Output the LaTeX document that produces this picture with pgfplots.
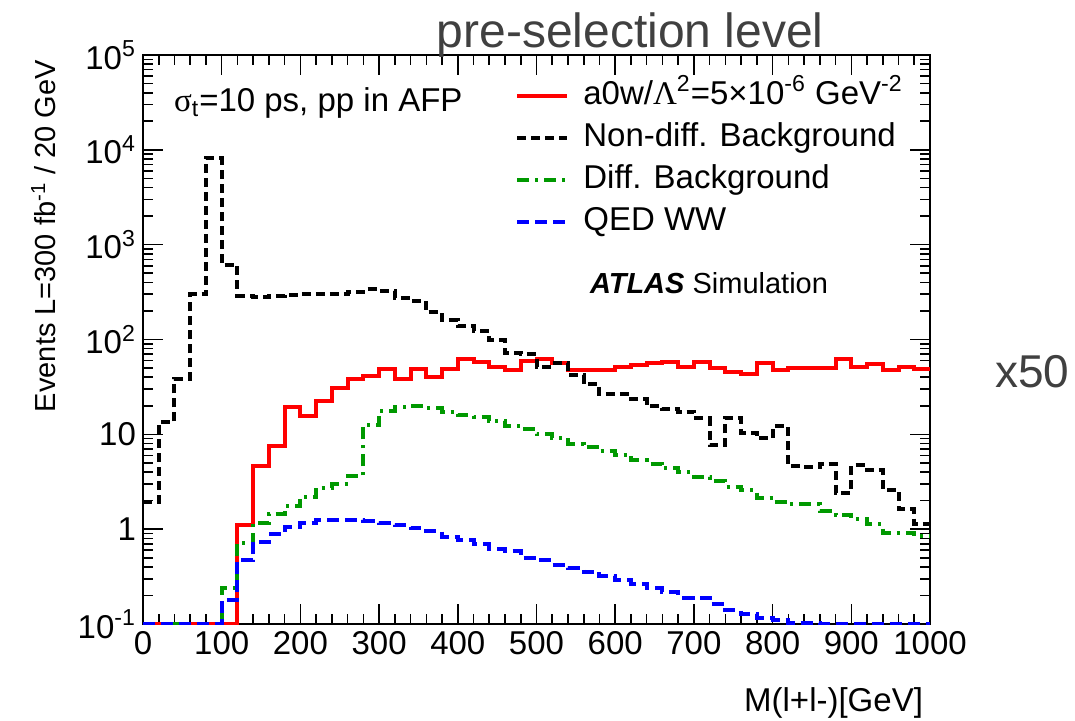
\documentclass[border=0pt]{standalone}
\usepackage{fontspec}
\setmainfont{Liberation Sans}
\newfontfamily\symf{Liberation Serif}
\usepackage{pgfplots}
\pgfplotsset{compat=1.18}
\usepackage{pgfplotstable}
\definecolor{tgray}{RGB}{64,64,64}
\definecolor{rootgreen}{RGB}{0,153,0}

\pgfplotstableread{
x sig nondiff diff qed
0 0.1 1.94 0.1 0.1
20 0.1 13.5 0.1 0.1
40 0.1 38 0.1 0.1
60 0.1 299 0.1 0.1
80 0.1 8130 0.1 0.1
100 0.1 609 0.237 0.18
120 1.12 289 0.71 0.47
140 4.6 282 1.15 0.73
160 7.6 289 1.46 0.885
180 19.5 296 1.75 1.06
200 15.5 305 2.19 1.17
220 22.5 305 2.75 1.24
240 31 305 3.03 1.24
260 38 316 3.62 1.24
280 41 337 12.5 1.22
300 48.7 327 17.6 1.17
320 38 272 19.2 1.1
340 48.6 256 19.8 1.02
360 40 193 18.8 0.95
380 48.6 160 17.3 0.83
400 62 138 15.9 0.76
420 58 123 15.3 0.69
440 50.8 98.6 13.8 0.625
460 47.6 72.5 12.2 0.59
480 59 70 11.3 0.5
500 61.6 51.5 10 0.47
520 56.8 56 9.06 0.42
540 47.6 42 8.0 0.39
560 47.6 33.8 7.4 0.355
580 47.6 26.4 6.7 0.32
600 50.8 26.4 6.1 0.29
620 53.6 23.5 5.35 0.265
640 56.8 19.8 4.9 0.237
660 58.5 18.3 4.4 0.215
680 51.5 17.3 4.0 0.19
700 58.5 14.9 3.56 0.19
720 50.5 7.7 3.2 0.164
740 45 14.9 2.8 0.14
760 43 10.4 2.58 0.129
780 56 9.06 2.14 0.117
800 47.6 12.2 1.94 0.11
820 49.5 4.6 1.84 0.103
840 49.5 4.5 1.84 0.103
860 49.5 4.9 1.56 0.1
880 63 2.4 1.4 0.1
900 51.5 4.7 1.27 0.1
920 54.6 4.2 1.13 0.1
940 47.6 2.6 0.92 0.1
960 51.5 1.65 0.92 0.1
980 48.6 1.13 0.84 0.1
1000 48.6 1.13 0.84 0.1
}\data

\begin{document}
\begin{tikzpicture}
\path[use as bounding box] (-71.5pt,-48pt) rectangle (466pt,312pt);
\begin{axis}[
  at={(0pt,0pt)}, anchor=south west,
  scale only axis, width=393.5pt, height=284.5pt,
  xmin=0, xmax=1000, ymode=log, ymin=0.1, ymax=1e5,
  xtick={0,100,...,1000}, minor x tick num=4,
  ytick={0.1,1,10,100,1000,10000,100000},
  yticklabels={10\textsuperscript{-1},1,10,10\textsuperscript{2},10\textsuperscript{3},10\textsuperscript{4},10\textsuperscript{5}},
  /pgf/number format/assume math mode=true,
  xticklabel style={/pgf/number format/1000 sep={}},
  tick label style={font=\fontsize{16.5}{16.5}\selectfont, black},
  major tick length=10pt, minor tick length=5pt,
  every tick/.style={black, line width=0.8pt},
  axis line style={line width=1pt},
  tick align=inside,
  title={pre-selection level},
  title style={at={(axis description cs:0.619,1.014)}, anchor=center, font=\fontsize{24}{24}\selectfont, text=tgray},
  xlabel={M(l+l-)[GeV]},
  xlabel style={at={(axis description cs:1,-0.139)}, anchor=east, font=\fontsize{16.5}{16.5}\selectfont},
  ylabel={Events L=300 fb\textsuperscript{-1} / 20 GeV},
  ylabel style={at={(axis description cs:-0.1265,1.0035)}, anchor=east, rotate=0, font=\fontsize{14.5}{14.5}\selectfont},
  legend cell align=left,
  legend style={at={(axis description cs:0.465,0.967)}, anchor=north west, draw=none, fill=none,
    font=\fontsize{16.5}{16.5}\selectfont, row sep=3pt,
    nodes={inner sep=1pt, text height=12pt, text depth=4pt},
    /tikz/every even column/.append style={column sep=0pt}},
  legend image code/.code={\draw[#1] (0pt,0pt) -- (25pt,0pt);},
  extra description/.code={
    \node[anchor=west, font=\fontsize{16.5}{16.5}\selectfont] at (0.0305,0.9156) {{\symf σ}\textsubscript{t}=10 ps, pp in AFP};
    \node[anchor=west, font=\fontsize{14.5}{14.5}\selectfont] at (0.559,0.599) {\textbf{\textit{ATLAS}} Simulation};
    \node[font=\fontsize{23}{23}\selectfont, text=tgray] at (1.13,0.443) {x50};
  },
]
\addplot[const plot, red, line width=2pt] table[x=x,y=sig]{\data};
\addlegendentry{\hspace{6pt}a0w/{\symf Λ}\textsuperscript{2}=5×10\textsuperscript{-6} GeV\textsuperscript{-2}}
\addplot[const plot, black, line width=2pt, dash pattern=on 4.5pt off 2.5pt] table[x=x,y=nondiff]{\data};
\addlegendentry{\hspace{6pt}Non-diff. Background}
\addplot[const plot, rootgreen, line width=2pt, dash pattern=on 6pt off 3pt on 1.5pt off 3pt] table[x=x,y=diff]{\data};
\addlegendentry{\hspace{6pt}Diff. Background}
\addplot[const plot, blue, line width=2pt, dash pattern=on 6pt off 3pt] table[x=x,y=qed]{\data};
\addlegendentry{\hspace{6pt}QED WW}
\end{axis}
\end{tikzpicture}
\end{document}
